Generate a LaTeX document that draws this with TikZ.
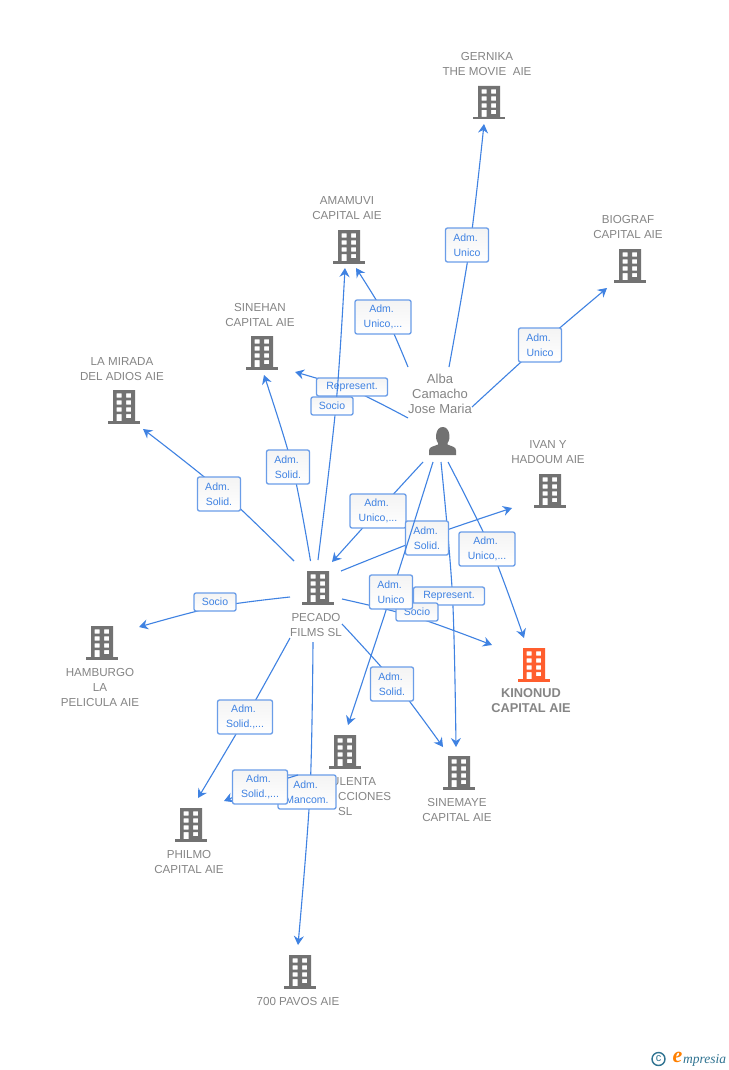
\documentclass[tikz,border=0pt]{standalone}
\usepackage{fontspec}
\setmainfont{Liberation Sans}
\newfontfamily\logofont{Liberation Serif}
\usetikzlibrary{arrows.meta}
\definecolor{linkblue}{HTML}{3F82E2}
\definecolor{boxblue}{HTML}{6A9DE8}
\definecolor{icongray}{HTML}{727272}
\definecolor{textgray}{HTML}{858585}
\definecolor{hiorange}{HTML}{FF5E2E}
\definecolor{logoteal}{HTML}{2F7391}
\tikzset{
  conn/.style={draw=linkblue,line width=1.1pt,-{Stealth[length=9pt,width=10pt,inset=3pt]}},
  lbl/.style={draw=boxblue,line width=1.3pt,rounded corners=2pt,top color=gray!9,bottom color=white,
    text=linkblue,font=\fontsize{10.5}{15}\selectfont,align=center,inner sep=0pt},
  nametext/.style={text=textgray,font=\fontsize{11.6}{15}\selectfont,align=center,inner sep=0pt},
  nametextb/.style={text=textgray,font=\bfseries\fontsize{12.8}{15}\selectfont,align=center,inner sep=0pt},
}
\newcommand{\Adm}{Adm.\hspace*{3pt}}
\newcommand{\One}[1]{\raisebox{-1pt}{#1}}
% building: name, x, top y, colour
\newcommand{\bld}[4]{%
  \begin{scope}[shift={(#2,#3)}]
    \fill[#4,even odd rule] (-11,0) rectangle (11,31)
      (-7.3,3.4) rectangle (-2.3,7.6) (2,3.4) rectangle (7,7.6)
      (-7.3,10.4) rectangle (-2.3,14.6) (2,10.4) rectangle (7,14.6)
      (-7.3,17.4) rectangle (-2.3,21.6) (2,17.4) rectangle (7,21.6)
      (-7.3,24) rectangle (-2.3,31) (2,24) rectangle (7,28.2);
    \fill[#4] (-16,31) rectangle (16,33.5);
    \coordinate (#1) at (0,16);
  \end{scope}}
% connector: name, start, waypoint, end, label centre, w, h, text
\newcommand{\conn}[8]{%
  \coordinate (#1s) at (#2);
  \coordinate (#1v) at (#3);
  \coordinate (#1e) at (#4);
  \draw[conn] plot[smooth,tension=0.55] coordinates {(#1s) (#1v) (#1e)};
  \node[lbl,minimum width=#6pt,minimum height=#7pt] (#1) at (#5) {#8};}
\begin{document}
\begin{tikzpicture}[x=1pt,y=-1pt]
\useasboundingbox (0,0) rectangle (728,1070);
\fill[white] (0,0) rectangle (728,1070);

\bld{gernika}{489}{86}{icongray}
\bld{biograf}{630}{249}{icongray}
\bld{amamuvi}{349}{230}{icongray}
\bld{sinehan}{262}{336}{icongray}
\bld{lamirada}{124}{390}{icongray}
\bld{ivan}{550}{474}{icongray}
\bld{pecado}{318}{571}{icongray}
\bld{hamburgo}{102}{626}{icongray}
\bld{kinonud}{534}{648}{hiorange}
\bld{pulenta}{345}{735}{icongray}
\bld{sinemaye}{459}{756}{icongray}
\bld{philmo}{191}{808}{icongray}
\bld{pavos}{300}{955}{icongray}

% person
\fill[icongray] (429,455) -- (429,450.5) .. controls (429,446.5) and (434,446.5) .. (438,444.5)
  -- (438,443) .. controls (434.5,439) and (435.5,427) .. (442.7,427)
  .. controls (450,427) and (451,439) .. (447.5,443) -- (447.5,444.5)
  .. controls (451.5,446.5) and (456,446.5) .. (456,450.5) -- (456,455) -- cycle;
\coordinate (alba) at (442.7,441);

% captions
\node[nametext] (tgernika) at (487,64.2) {GERNIKA\\THE MOVIE\ \ AIE};
\node[nametext] (tbiograf) at (628,227.2) {BIOGRAF\\CAPITAL AIE};
\node[nametext] (tamamuvi) at (347,208.2) {AMAMUVI\\CAPITAL AIE};
\node[nametext] (tsinehan) at (260,315.2) {SINEHAN\\CAPITAL AIE};
\node[nametext] (tlamirada) at (122,369.2) {LA MIRADA\\DEL ADIOS AIE};
\node[nametext] (tivan) at (548,452.2) {IVAN Y\\HADOUM AIE};
\node[nametext] (tpecado) at (316,625.2) {PECADO\\FILMS SL};
\node[nametext] (thamburgo) at (100,687.7) {HAMBURGO\\LA\\PELICULA AIE};
\node[nametextb] (tkinonud) at (531,700.2) {KINONUD\\CAPITAL AIE};
\node[nametext,anchor=west,align=left] (tpulenta) at (338,796.7) {\hspace*{-7pt}ULENTA\\CCIONES\\SL};
\node[nametext] (tsinemaye) at (457,810.2) {SINEMAYE\\CAPITAL AIE};
\node[nametext] (tphilmo) at (189,862.2) {PHILMO\\CAPITAL AIE};
\node[nametext] (tpavos) at (298,1001.7) {700 PAVOS AIE};
\node[nametext,font=\fontsize{13}{15}\selectfont] (talba) at (440,393.7) {Alba\\Camacho\\Jose Maria};

% connectors
\conn{a}{449,367}{470,245}{484,124}{467,245}{43}{34}{\Adm\\Unico}
\conn{b}{472,407}{540,345}{607,288}{540,345}{43}{34}{\Adm\\Unico}
\conn{c}{408,367}{386,317}{356,268}{383,317}{56}{34}{\Adm\\Unico,...}
\conn{d}{408,418}{352,390}{295,372}{352,387}{71}{18}{\One{Represent.}}
\conn{e}{318,560}{336,405}{345,268}{332,406}{42}{18}{\One{Socio}}
\conn{f}{310.5,561}{292.5,467}{264,375}{288,467}{43}{34}{\Adm\\Solid.}
\conn{g}{294,561}{221,491}{143,429}{219,494}{43}{34}{\Adm\\Solid.}
\conn{h}{290,597}{215,607}{139,627}{215,602}{42}{18}{\One{Socio}}
\conn{i}{290,638}{246,717}{198,798}{245,717}{55}{34}{\Adm\\Solid.,...}
\conn{k}{313,642}{310,792}{298,945}{307,792}{58}{34}{\Adm\\Mancom.}
\conn{j}{298,775}{260,787}{224,801}{260,787}{55}{34}{\Adm\\Solid.,...}
\conn{l}{342,624}{396,684}{443,747}{392,684}{43}{34}{\Adm\\Solid.}
\conn{m}{441,462}{452.5,596}{456,747}{449,596}{71}{18}{\One{Represent.}}
\conn{n}{342,599}{415,617}{492,645}{417,612}{42}{18}{\One{Socio}}
\conn{p}{423,462}{378,511}{332,562}{378,511}{56}{34}{\Adm\\Unico,...}
\conn{q}{341,571}{427,537}{512,508}{427,538}{43}{34}{\Adm\\Solid.}
\conn{r}{433,462}{392,592}{348,725}{391,592}{43}{34}{\Adm\\Unico}
\conn{s}{448,462}{491,549}{524,638}{487,549}{56}{34}{\Adm\\Unico,...}

% logo
\node[circle,draw=logoteal,line width=1.4pt,minimum size=13pt,inner sep=0pt,text=logoteal,font=\fontsize{11}{11}\selectfont] (copy) at (658.5,1059) {c};
\node[text=orange,font=\logofont\itshape\bfseries\fontsize{22}{22}\selectfont,inner sep=0pt] (logoe) at (677.5,1057.5) {e};
\node[text=logoteal,font=\logofont\itshape\fontsize{13.5}{13.5}\selectfont,inner sep=0pt,anchor=west] (logot) at (683,1060) {mpresia};
\end{tikzpicture}
\end{document}
